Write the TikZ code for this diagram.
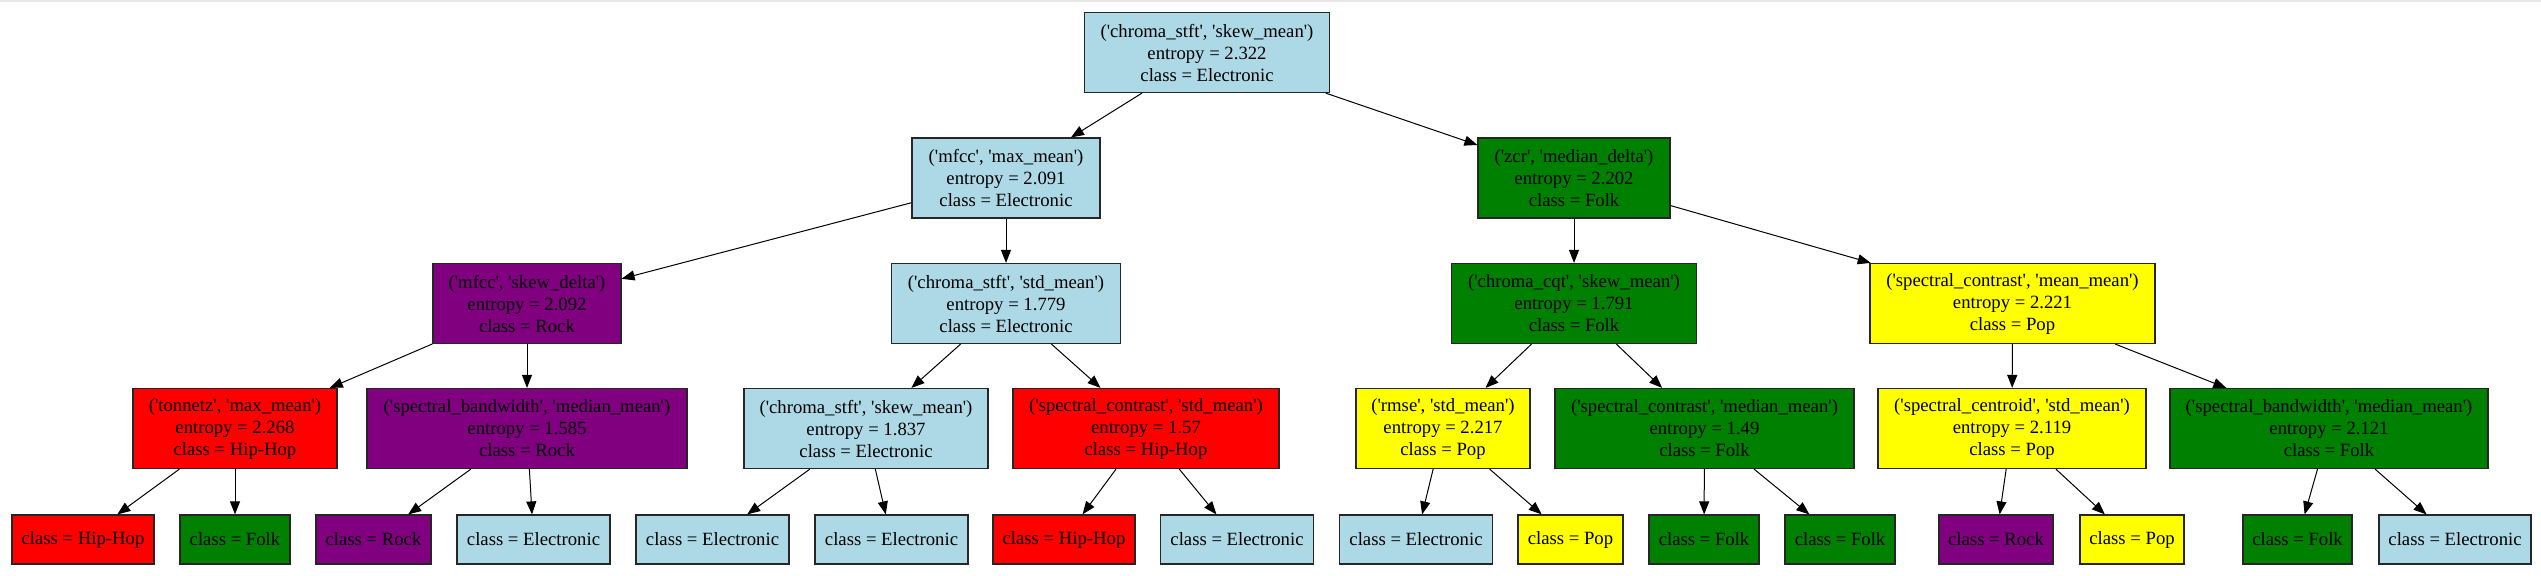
\documentclass[tikz,border=0pt]{standalone}
\usepackage{fontspec}
\setmainfont{Liberation Serif}
\usetikzlibrary{arrows.meta}
\newcommand{\sq}{\textquotesingle}
\definecolor{lblue}{RGB}{173,216,230}
\definecolor{gpurple}{RGB}{128,0,128}
\definecolor{ggreen}{RGB}{0,128,0}
\definecolor{gred}{RGB}{255,0,0}
\definecolor{gyellow}{RGB}{255,255,0}
\tikzset{
  tnode/.style={draw=black!85, line width=0.6pt, rectangle, inner sep=0pt, align=center,
    font=\fontsize{9.35}{11}\selectfont},
  inner/.style={tnode, minimum height=40pt},
  leaf/.style={tnode, minimum height=24.5pt},
  edge/.style={line width=0.5pt, -{Triangle[length=6.5pt,width=5pt]}},
}
\begin{document}
\begin{tikzpicture}[x=0.5pt,y=-0.5pt]
\useasboundingbox (0,0) rectangle (2541,575);
\fill[white] (0,0) rectangle (2541,575);
\fill[black!10] (0,0) rectangle (2541,2);
% level 0
\node[inner, fill=lblue, minimum width=122.5pt] (n0) at (1207,52.5) {(\sq chroma\_stft\sq, \sq skew\_mean\sq)\\entropy = 2.322\\class = Electronic};
% level 1
\node[inner, fill=lblue, minimum width=94pt] (n1) at (1006,178) {(\sq mfcc\sq, \sq max\_mean\sq)\\entropy = 2.091\\class = Electronic};
\node[inner, fill=ggreen, minimum width=96pt] (n2) at (1574,178) {(\sq zcr\sq, \sq median\_delta\sq)\\entropy = 2.202\\class = Folk};
% level 2
\node[inner, fill=gpurple, minimum width=94pt] (n3) at (527,303.5) {(\sq mfcc\sq, \sq skew\_delta\sq)\\entropy = 2.092\\class = Rock};
\node[inner, fill=lblue, minimum width=114.5pt] (n4) at (1006,303.5) {(\sq chroma\_stft\sq, \sq std\_mean\sq)\\entropy = 1.779\\class = Electronic};
\node[inner, fill=ggreen, minimum width=122.5pt] (n5) at (1574,303.5) {(\sq chroma\_cqt\sq, \sq skew\_mean\sq)\\entropy = 1.791\\class = Folk};
\node[inner, fill=gyellow, minimum width=142.5pt] (n6) at (2012.5,303.5) {(\sq spectral\_contrast\sq, \sq mean\_mean\sq)\\entropy = 2.221\\class = Pop};
% level 3
\node[inner, fill=gred, minimum width=102pt] (n7) at (235,428.5) {(\sq tonnetz\sq, \sq max\_mean\sq)\\entropy = 2.268\\class = Hip-Hop};
\node[inner, fill=gpurple, minimum width=160pt] (n8) at (527,428.5) {(\sq spectral\_bandwidth\sq, \sq median\_mean\sq)\\entropy = 1.585\\class = Rock};
\node[inner, fill=lblue, minimum width=122pt] (n9) at (866,428.5) {(\sq chroma\_stft\sq, \sq skew\_mean\sq)\\entropy = 1.837\\class = Electronic};
\node[inner, fill=gred, minimum width=133pt] (n10) at (1146,428.5) {(\sq spectral\_contrast\sq, \sq std\_mean\sq)\\entropy = 1.57\\class = Hip-Hop};
\node[inner, fill=gyellow, minimum width=87pt] (n11) at (1443,428.5) {(\sq rmse\sq, \sq std\_mean\sq)\\entropy = 2.217\\class = Pop};
\node[inner, fill=ggreen, minimum width=149.5pt] (n12) at (1704.5,428.5) {(\sq spectral\_contrast\sq, \sq median\_mean\sq)\\entropy = 1.49\\class = Folk};
\node[inner, fill=gyellow, minimum width=134pt] (n13) at (2012,428.5) {(\sq spectral\_centroid\sq, \sq std\_mean\sq)\\entropy = 2.119\\class = Pop};
\node[inner, fill=ggreen, minimum width=159pt] (n14) at (2329,428.5) {(\sq spectral\_bandwidth\sq, \sq median\_mean\sq)\\entropy = 2.121\\class = Folk};
% level 4
\node[leaf, fill=gred, minimum width=71pt] (l1) at (83,539.5) {class = Hip-Hop};
\node[leaf, fill=ggreen, minimum width=55pt] (l2) at (235,539.5) {class = Folk};
\node[leaf, fill=gpurple, minimum width=57.5pt] (l3) at (373.5,539.5) {class = Rock};
\node[leaf, fill=lblue, minimum width=76.5pt] (l4) at (533.5,539.5) {class = Electronic};
\node[leaf, fill=lblue, minimum width=76.5pt] (l5) at (712.5,539.5) {class = Electronic};
\node[leaf, fill=lblue, minimum width=76.5pt] (l6) at (891.5,539.5) {class = Electronic};
\node[leaf, fill=gred, minimum width=71pt] (l7) at (1064,539.5) {class = Hip-Hop};
\node[leaf, fill=lblue, minimum width=76.5pt] (l8) at (1237,539.5) {class = Electronic};
\node[leaf, fill=lblue, minimum width=76.5pt] (l9) at (1416,539.5) {class = Electronic};
\node[leaf, fill=gyellow, minimum width=52.5pt] (l10) at (1570.5,539.5) {class = Pop};
\node[leaf, fill=ggreen, minimum width=55pt] (l11) at (1704,539.5) {class = Folk};
\node[leaf, fill=ggreen, minimum width=55pt] (l12) at (1840,539.5) {class = Folk};
\node[leaf, fill=gpurple, minimum width=57pt] (l13) at (1996,539.5) {class = Rock};
\node[leaf, fill=gyellow, minimum width=52pt] (l14) at (2132,539.5) {class = Pop};
\node[leaf, fill=ggreen, minimum width=54.5pt] (l15) at (2297.5,539.5) {class = Folk};
\node[leaf, fill=lblue, minimum width=76pt] (l16) at (2455,539.5) {class = Electronic};
% edges
\draw[edge] (n0) -- (n1);
\draw[edge] (n0) -- (n2);
\draw[edge] (n1) -- (n3);
\draw[edge] (n1) -- (n4);
\draw[edge] (n2) -- (n5);
\draw[edge] (n2) -- (n6);
\draw[edge] (n3) -- (n7);
\draw[edge] (n3) -- (n8);
\draw[edge] (n4) -- (n9);
\draw[edge] (n4) -- (n10);
\draw[edge] (n5) -- (n11);
\draw[edge] (n5) -- (n12);
\draw[edge] (n6) -- (n13);
\draw[edge] (n6) -- (n14);
\draw[edge] (n7) -- (l1);
\draw[edge] (n7) -- (l2);
\draw[edge] (n8) -- (l3);
\draw[edge] (n8) -- (l4);
\draw[edge] (n9) -- (l5);
\draw[edge] (n9) -- (l6);
\draw[edge] (n10) -- (l7);
\draw[edge] (n10) -- (l8);
\draw[edge] (n11) -- (l9);
\draw[edge] (n11) -- (l10);
\draw[edge] (n12) -- (l11);
\draw[edge] (n12) -- (l12);
\draw[edge] (n13) -- (l13);
\draw[edge] (n13) -- (l14);
\draw[edge] (n14) -- (l15);
\draw[edge] (n14) -- (l16);
\end{tikzpicture}
\end{document}
